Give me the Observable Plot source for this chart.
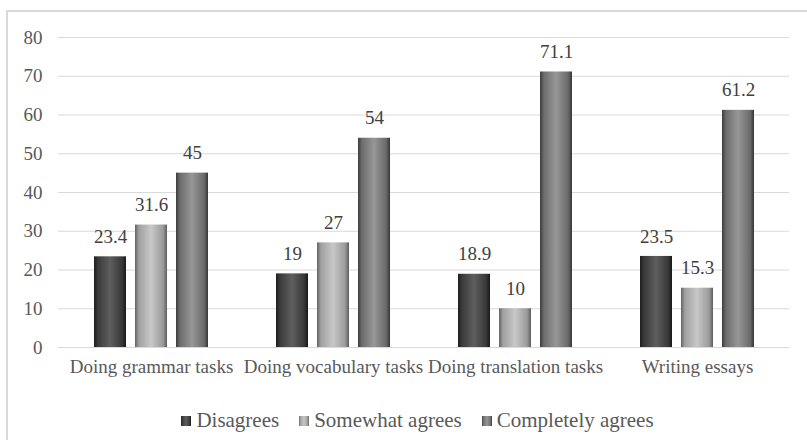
<!DOCTYPE html>
<html>
<head>
<meta charset="utf-8">
<script src="https://cdn.jsdelivr.net/npm/d3@7"></script>
<script src="https://cdn.jsdelivr.net/npm/@observablehq/plot@0.6"></script>
<style>
  html, body { margin: 0; padding: 0; background: #fff; }
  #wrap { position: relative; width: 807px; height: 440px; overflow: hidden; font-family: "Liberation Serif", Tinos, "DejaVu Serif", serif; }
  #frame { position: absolute; left: 6px; top: 10px; width: 830px; height: 460px; border-left: 2px solid #d9d9d9; border-top: 2px solid #d9d9d9; box-sizing: border-box; }
  #chart { position: absolute; left: 0; top: 0; }
  #legend { position: absolute; left: 0; top: 408px; width: 807px; display: flex; justify-content: center; padding-left: 28px; box-sizing: border-box; font-size: 21px; color: #595959; }
  .item { display: flex; align-items: center; margin: 0 10px; }
  .sw { width: 10px; height: 10px; margin-right: 5px; }
  #chart svg text { font-family: "Liberation Serif", Tinos, "DejaVu Serif", serif; }
</style>
</head>
<body>
<div id="wrap">
  <div id="frame"></div>
  <div id="chart"></div>
  <div id="legend"></div>
</div>
<script>
// Survey categories and the share (%) of respondents per answer
const categories = ["Doing grammar tasks", "Doing vocabulary tasks", "Doing translation tasks", "Writing essays"];
const seriesNames = ["Disagrees", "Somewhat agrees", "Completely agrees"];
const disagrees = [23.4, 19, 18.9, 23.5];
const somewhatAgrees = [31.6, 27, 10, 15.3];
const completelyAgrees = [45, 54, 71.1, 61.2];
const yTicks = [0, 10, 20, 30, 40, 50, 60, 70, 80];

const seriesValues = [disagrees, somewhatAgrees, completelyAgrees];
const gradIds = ["g-dis", "g-some", "g-comp"];
const gradStops = [
  [["0", "#1e1e1e"], ["0.12", "#3a3a3a"], ["0.5", "#5e5e5e"], ["0.88", "#383838"], ["1", "#181818"]],
  [["0", "#626262"], ["0.12", "#a0a0a0"], ["0.5", "#c8c8c8"], ["0.88", "#9a9a9a"], ["1", "#5c5c5c"]],
  [["0", "#3c3c3c"], ["0.12", "#6c6c6c"], ["0.5", "#979797"], ["0.88", "#6a6a6a"], ["1", "#353535"]]
];

const rows = seriesValues.map(vals => categories.map((c, i) => ({category: c, value: vals[i]})));

const barW = 32, step = 41;
const marks = [
  Plot.gridY(yTicks, {stroke: "#d9d9d9", strokeOpacity: 1, strokeWidth: 1.2}),
  Plot.axisY(yTicks, {tickSize: 0, tickPadding: 16, fontSize: 19, fill: "#595959"}),
  Plot.axisX({tickSize: 0, tickPadding: 12, fontSize: 19, fill: "#595959"})
];
rows.forEach((data, s) => {
  const offset = (s - 1) * step;
  marks.push(Plot.barY(data, {
    x: "category", y: "value", fill: `url(#${gradIds[s]})`,
    insetLeft: (114 - barW) / 2, insetRight: (114 - barW) / 2, dx: offset,
    ariaLabel: "bars-" + s
  }));
  marks.push(Plot.text(data, {
    x: "category", y: "value", text: d => String(d.value), dx: offset, dy: -20,
    fontSize: 19, fill: "#404040"
  }));
});

const chart = Plot.plot({
  width: 807,
  height: 390,
  marginLeft: 58,
  marginRight: 18,
  marginTop: 37,
  marginBottom: 43,
  style: {fontFamily: "'Liberation Serif', Tinos, 'DejaVu Serif', serif", background: "transparent"},
  x: {domain: categories, paddingInner: 0.376, paddingOuter: 0.188, label: null},
  y: {domain: [0, 80], label: null},
  marks
});

// Shaded gradients and bevelled caps for the bars
const svg = d3.select(chart);
const defs = svg.insert("defs", ":first-child");
gradIds.forEach((id, s) => {
  const g = defs.append("linearGradient").attr("id", id).attr("x1", 0).attr("x2", 1).attr("y1", 0).attr("y2", 0);
  gradStops[s].forEach(([o, c]) => g.append("stop").attr("offset", o).attr("stop-color", c));
});
for (let s = 0; s < 3; s++) {
  svg.selectAll(`g[aria-label="bars-${s}"] rect`).each(function () {
    const r = d3.select(this);
    const x = +r.attr("x"), y = +r.attr("y"), w = +r.attr("width"), h = +r.attr("height");
    const parent = d3.select(this.parentNode);
    const cap = Math.min(11, h / 2);
    parent.append("path")
      .attr("d", `M${x + 2},${y + 1}L${x + w - 2},${y + 1}L${x + w / 2 + 5},${y + cap}L${x + w / 2 - 5},${y + cap}Z`)
      .attr("fill", "#fff").attr("fill-opacity", 0.35);
    parent.append("rect")
      .attr("x", x + 0.5).attr("y", y + 0.5).attr("width", w - 1).attr("height", h - 0.5)
      .attr("fill", "none").attr("stroke", "#2a2a2a").attr("stroke-opacity", 0.4);
  });
}
document.getElementById("chart").appendChild(chart);

// Legend
const legend = document.getElementById("legend");
seriesNames.forEach((name, s) => {
  const item = document.createElement("div");
  item.className = "item";
  const sw = document.createElement("div");
  sw.className = "sw";
  const st = gradStops[s];
  sw.style.background = `linear-gradient(to right, ${st.map(([o, c]) => `${c} ${o * 100}%`).join(", ")})`;
  const label = document.createElement("span");
  label.textContent = name;
  item.appendChild(sw);
  item.appendChild(label);
  legend.appendChild(item);
});
</script>
</body>
</html>
